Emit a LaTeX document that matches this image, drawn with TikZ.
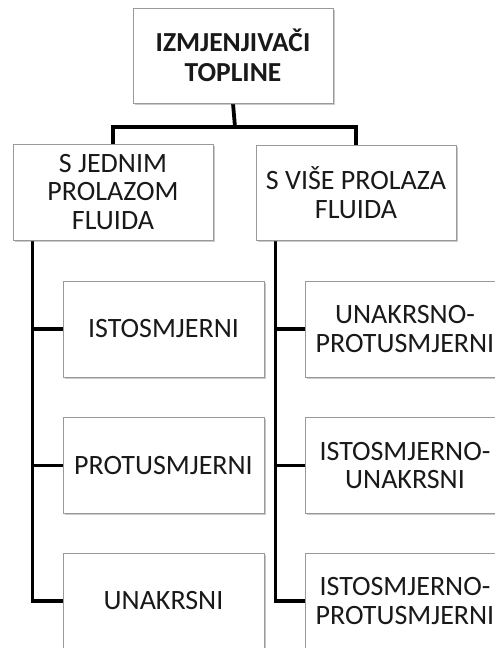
\documentclass[tikz,border=0pt]{standalone}
\usepackage{fontspec}
\setmainfont{Carlito}
\usetikzlibrary{shadows,backgrounds,calc}
\begin{document}
\begin{tikzpicture}[x=1pt,y=-1pt,
  box/.style={draw=black!40, line width=0.9pt, fill=white, minimum width=200pt, minimum height=96pt,
    align=center, inner sep=1pt, text=black!90, font=\fontsize{28}{28.5}\selectfont,
    drop shadow={shadow xshift=1.6pt, shadow yshift=-1.8pt, opacity=0.35, fill=black!60}},
  conn/.style={line width=3.8pt, line join=miter, draw=black}]
\useasboundingbox (0,0) rectangle (495,648);
\clip (0,0) rectangle (495,648);
\node[box, minimum height=95pt, font=\bfseries\fontsize{27.5}{30}\selectfont] (top) at (233,55.5) {IZMJENJIVAČI\\TOPLINE};
\node[box] (l2a) at (113,192) {S JEDNIM\\PROLAZOM\\FLUIDA};
\node[box, minimum height=95pt] (l2b) at (356,192.5) {S VIŠE PROLAZA\\FLUIDA};
\node[box, minimum width=201pt] (a1) at (163.5,329) {ISTOSMJERNI};
\node[box, minimum width=201pt] (a2) at (163.5,465.5) {PROTUSMJERNI};
\node[box, minimum width=201pt] (a3) at (163.5,601) {UNAKRSNI};
\node[box] (b1) at (405,329) {UNAKRSNO-\\PROTUSMJERNI};
\node[box] (b2) at (405,465.5) {ISTOSMJERNO-\\UNAKRSNI};
\node[box] (b3) at (405,601) {ISTOSMJERNO-\\PROTUSMJERNI};
\coordinate (j) at (235,127);
\coordinate (la) at ($(l2a.south west)+(20,0)$);
\coordinate (lb) at ($(l2b.south west)+(20,0)$);
\begin{scope}[on background layer]
\draw[conn] (top.south) -- (j);
\draw[conn] (l2a.north) -- (l2a.north |- j) -- (l2b.north |- j) -- (l2b.north);
\draw[conn] (la) |- (a1.west);
\draw[conn] (la) |- (a2.west);
\draw[conn] (la) |- (a3.west);
\draw[conn] (lb) |- (b1.west);
\draw[conn] (lb) |- (b2.west);
\draw[conn] (lb) |- (b3.west);
\end{scope}
\end{tikzpicture}
\end{document}
